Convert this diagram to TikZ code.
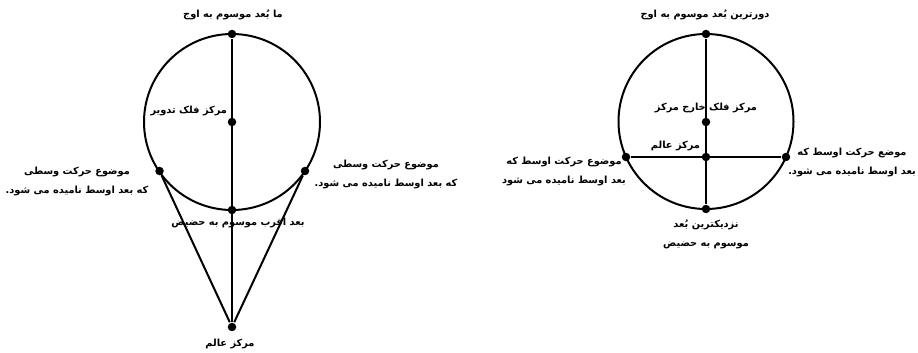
\documentclass[tikz,border=0pt]{standalone}
\usepackage{fontspec}
\newfontfamily\arabicfont[Script=Arabic]{DejaVu Sans}
\TeXXeTstate=1
\usetikzlibrary{positioning}
\newcommand{\fa}[1]{\beginR #1\endR}

\begin{document}
\begin{tikzpicture}[x=1pt, y=-1pt,
    every node/.style={font=\arabicfont\bfseries\fontsize{9.8}{19}\selectfont},
    lbl/.style={inner sep=1pt, align=center},
    dot/.style={circle, fill, inner sep=0pt, minimum size=8.5pt},
    line width=2pt
  ]
  \useasboundingbox (0,0) rectangle (918,353);
  % epicycle model
  \draw (232,122) circle (88pt);
  \node[dot] (apo) at (232,34) {};
  \node[dot] (epi) at (232,122) {};
  \node[dot] (peri) at (232,210) {};
  \node[dot] (midl) at (159.5,171) {};
  \node[dot] (midr) at (305,171) {};
  \node[dot] (earth) at (232,327) {};
  \draw (apo) -- (earth);
  \draw (midl) -- (earth) -- (midr);
  \node[lbl] (apol) at (233,15) {\fa{ما بُعد موسوم به اوج}};
  \node[lbl, anchor=east] (epil) at (229,111) {\fa{مرکز فلک تدویر}};
  \node[lbl] (midll) at (77,181) {\fa{موضوع حرکت وسطی}\\\fa{که بعد اوسط نامیده می شود.}};
  \node[lbl] (midrl) at (386,174) {\fa{موضوع حرکت وسطی}\\\fa{که بعد اوسط نامیده می شود.}};
  \node[lbl] (peril) at (238,223) {\fa{بعد اقرب موسوم به حضیض}};
  \node[lbl] (earthl) at (230,344) {\fa{مرکز عالم}};
  % eccentric model
  \draw (706,121.5) circle (87.5pt);
  \node[dot] (apo2) at (706,34) {};
  \node[dot] (ecc) at (706,122) {};
  \node[dot] (world) at (706,157) {};
  \node[dot] (midl2) at (626,157) {};
  \node[dot] (midr2) at (786,157) {};
  \node[dot] (peri2) at (706,209) {};
  \draw (apo2) -- (peri2);
  \draw (midl2) -- (midr2);
  \node[lbl] (apol2) at (705,15) {\fa{دورترین بُعد موسوم به اوج}};
  \node[lbl] (eccl) at (706,108) {\fa{مرکز فلک خارج مرکز}};
  \node[lbl, anchor=east] (worldl) at (702,146) {\fa{مرکز عالم}};
  \node[lbl] (midll2) at (564,171) {\fa{موضوع حرکت اوسط که}\\\fa{بعد اوسط نامیده می شود}};
  \node[lbl] (midrl2) at (852,162) {\fa{موضع حرکت اوسط که}\\\fa{بعد اوسط نامیده می شود.}};
  \node[lbl] (peril2) at (706,234) {\fa{نزدیکترین بُعد}\\\fa{موسوم به حضیض}};
\end{tikzpicture}
\end{document}
